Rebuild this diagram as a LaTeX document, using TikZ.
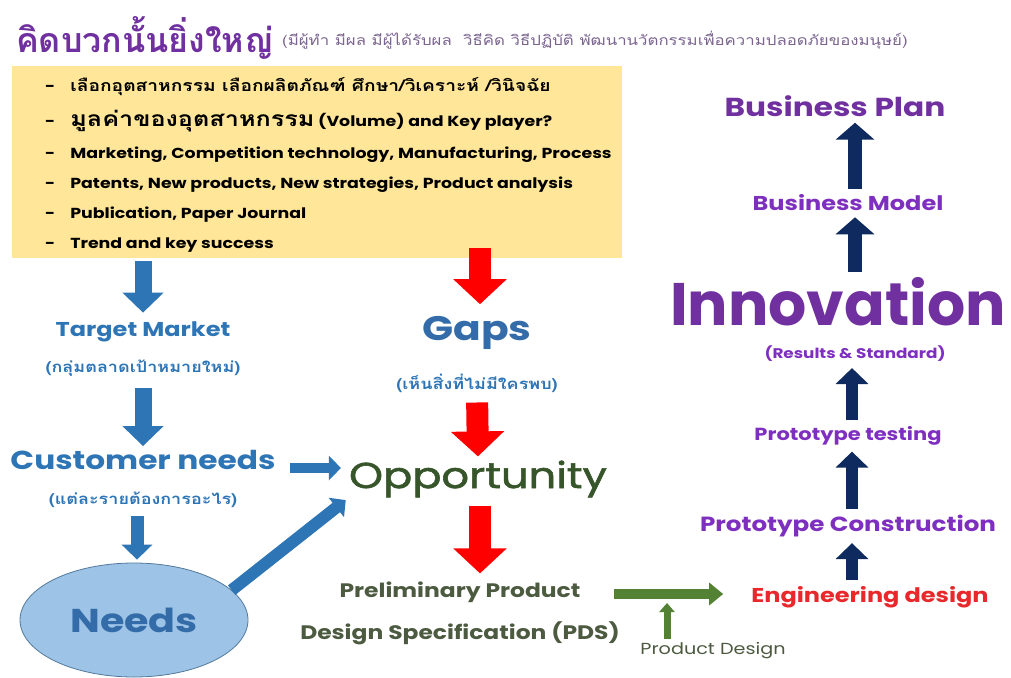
\documentclass[tikz,border=0pt]{standalone}
\usepackage{fontspec}
\setmainfont{Poppins}[FakeStretch=1.2]
\newfontfamily\popp{Poppins}
\newfontfamily\poppm{Poppins}[FakeStretch=1.2,FakeBold=1.6]
\newfontfamily\thaifont[Script=Thai,FakeStretch=1.2]{Loma}
\newfontfamily\thaititel[Script=Thai]{Loma}
\usetikzlibrary{arrows.meta,shapes.geometric}
\definecolor{lila}{HTML}{7030A0}
\definecolor{lilah}{HTML}{7E2FC0}
\definecolor{lilag}{HTML}{7B6590}
\definecolor{blau}{HTML}{2E75B6}
\definecolor{dblau}{HTML}{336CA8}
\definecolor{rot}{HTML}{FF0000}
\definecolor{erot}{HTML}{E8282B}
\definecolor{navy}{HTML}{0E2A5E}
\definecolor{gruen}{HTML}{548235}
\definecolor{dgruen}{HTML}{37552A}
\definecolor{ggruen}{HTML}{4C5A40}
\definecolor{gelb}{HTML}{FFE699}
\definecolor{hblau}{HTML}{9DC3E6}
\newcommand\fsz[1]{\fontsize{#1}{#1}\selectfont}
\tikzset{
  pfb/.style={-{Triangle[length=20pt,width=40pt]},blau,line width=17pt},
  pfbs/.style={-{Triangle[length=12pt,width=24pt]},blau,line width=10pt},
  pfr/.style={-{Triangle[length=25pt,width=52pt]},rot,line width=22pt},
  pfn/.style={-{Triangle[length=16pt,width=32pt]},navy,line width=12pt},
  pfg/.style={-{Triangle[length=14pt,width=22pt]},gruen,line width=10pt},
  txt/.style={inner sep=0pt},
  boxtxt/.style={anchor=west,inner sep=0pt,font=\bfseries\fsz{14.5}},
  thai/.style={inner sep=0pt,font=\thaifont\bfseries\fsz{15}},
}

\begin{document}
\begin{tikzpicture}[x=1pt,y=-1pt]
  \useasboundingbox[fill=white] (0,0) rectangle (1011,677);
  % Titel
  \node[txt,lila,anchor=west,font=\thaititel\bfseries\fsz{34}] (titel) at (16,38) {คิดบวกนั้นยิ่งใหญ่};
  \node[txt,lilag,anchor=west,font=\thaifont\fsz{14}] (untertitel) at (282,40)
    {(มีผู้ทำ มีผล มีผู้ได้รับผล~~วิธีคิด วิธีปฏิบัติ พัฒนานวัตกรรมเพื่อความปลอดภัยของมนุษย์)};
  % Kasten
  \node[fill=gelb,inner sep=0pt,minimum width=610pt,minimum height=192pt,anchor=north west] (box) at (12,66) {};
  \node[boxtxt] (z1) at (45,87) {-\hspace{15pt}{\thaifont\fsz{16}เลือกอุตสาหกรรม เลือกผลิตภัณฑ์ ศึกษา/วิเคราะห์ /วินิจฉัย}};
  \node[boxtxt] (z2) at (45,121) {-\hspace{15pt}{\thaifont\fsz{21}มูลค่าของอุตสาหกรรม} (Volume) and Key player?};
  \node[boxtxt] (z3) at (45,155) {-\hspace{15pt}Marketing, Competition technology, Manufacturing, Process};
  \node[boxtxt] (z4) at (45,185) {-\hspace{15pt}Patents, New products, New strategies, Product analysis};
  \node[boxtxt] (z5) at (45,215) {-\hspace{15pt}Publication, Paper Journal};
  \node[boxtxt] (z6) at (45,245) {-\hspace{15pt}Trend and key success};
  % linke Spalte
  \node[txt,blau,font=\bfseries\fsz{20}] (tm) at (143,332) {Target Market};
  \node[thai,blau] (tmth) at (143,368) {(กลุ่มตลาดเป้าหมายใหม่)};
  \node[txt,blau,font=\bfseries\fsz{26}] (cn) at (143,460) {Customer needs};
  \node[thai,blau] (cnth) at (143,500) {(แต่ละรายต้องการอะไร)};
  \node[ellipse,draw=blau!55!gray,line width=0.8pt,fill=hblau,minimum width=228pt,minimum height=114pt,
    inner sep=0pt,text=dblau,font=\bfseries\fsz{33}] (needs) at (134,620) {Needs};
  % mittlere Spalte
  \node[txt,dblau,font=\bfseries\fsz{34}] (gaps) at (477,333) {Gaps};
  \node[thai,blau] (gapsth) at (477,383) {(เห็นสิ่งที่ไม่มีใครพบ)};
  \node[txt,dgruen,font=\poppm\fsz{36}] (opp) at (478,479) {Opportunity};
  \node[txt,ggruen,font=\bfseries\fsz{19.5}] (pds1) at (460,592) {Preliminary Product};
  \node[txt,ggruen,font=\bfseries\fsz{19.5}] (pds2) at (460,633) {Design Specification (PDS)};
  \node[txt,ggruen,font=\fsz{16}] (pd) at (713,651) {Product Design};
  % rechte Spalte
  \node[txt,erot,font=\bfseries\fsz{20}] (eng) at (870,597) {Engineering design};
  \node[txt,lilah,font=\bfseries\fsz{20.5}] (pc) at (848,526) {Prototype Construction};
  \node[txt,lilah,font=\bfseries\fsz{17.5}] (pt) at (848,436) {Prototype testing};
  \node[txt,lilah,font=\bfseries\fsz{14}] (rs) at (855,354) {(Results \& Standard)};
  \node[txt,lila,font=\popp\bfseries\fsz{60}] (inno) at (838,302) {Innovation};
  \node[txt,lilah,font=\bfseries\fsz{20}] (bm) at (848,203) {Business Model};
  \node[txt,lila,font=\bfseries\fsz{26}] (bp) at (835,106) {Business Plan};
  % Pfeile
  \draw[pfb,shorten <=3pt,shorten >=9pt] (box.south -| tm.north) -- (tm.north);
  \draw[pfb,shorten <=12pt,shorten >=4pt] (tmth.south) -- (cn.north);
  \draw[pfbs,line width=13pt,-{Triangle[length=15pt,width=30pt]},shorten <=8pt,shorten >=3pt] (cnth.south -| 137,0) -- (needs.north -| 137,0);
  \draw[pfbs,shorten <=14pt,shorten >=8pt] (cn.east |- 0,468) -- (opp.west |- 0,468);
  \draw[pfbs,line width=12pt,shorten >=4pt] (needs.17) -- (opp.south west);
  \draw[pfr,shorten <=-10pt,shorten >=12pt] (box.south -| 480,0) -- (gaps.north -| 480,0);
  \draw[pfr,shorten <=10pt,shorten >=4pt] (gapsth.south) -- (opp.north);
  \draw[pfr,shorten <=8pt,shorten >=8pt] (opp.south -| 480,0) -- (pds1.north -| 480,0);
  \draw[pfg,shorten <=33pt,shorten >=28pt] (pds1.east |- 0,594) -- (eng.west |- 0,594);
  \coordinate (pdz) at (667,603);
  \draw[pfg,line width=7pt,-{Triangle[length=9pt,width=15pt]},shorten <=4pt] (pd.north -| pdz) -- (pdz);
  \draw[pfn,shorten <=6pt,shorten >=6pt] (eng.north -| 852,0) -- (pc.south -| 852,0);
  \draw[pfn,shorten <=6pt,shorten >=6pt] (pc.north -| 852,0) -- (pt.south -| 852,0);
  \draw[pfn,shorten <=6pt,shorten >=6pt] (pt.north -| 852,0) -- (rs.south -| 852,0);
  \draw[pfn,line width=14pt,-{Triangle[length=17pt,width=38pt]},shorten <=6pt,shorten >=6pt] (inno.north -| 855,0) -- (bm.south -| 855,0);
  \draw[pfn,line width=14pt,-{Triangle[length=17pt,width=38pt]},shorten <=6pt,shorten >=6pt] (bm.north -| 855,0) -- (bp.south -| 855,0);
\end{tikzpicture}
\end{document}
